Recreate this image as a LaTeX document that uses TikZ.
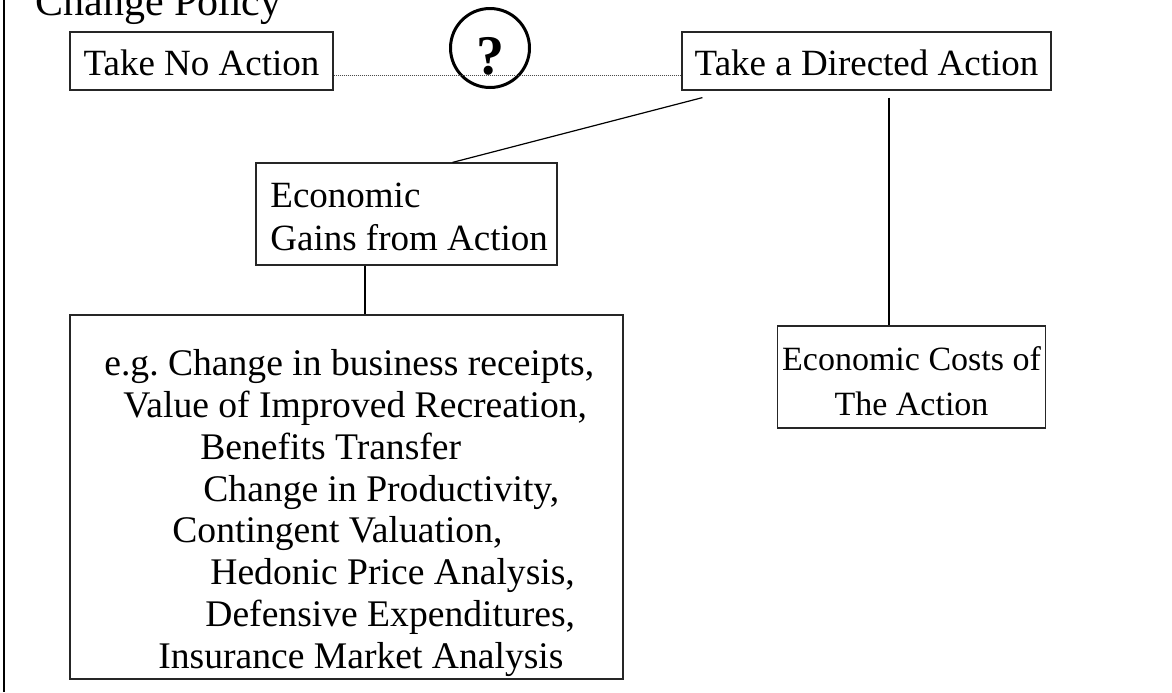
\documentclass[tikz,border=0pt]{standalone}
\usepackage{fontspec}
\setmainfont{Liberation Serif}
\frenchspacing
\begin{document}
\begin{tikzpicture}[x=0.5pt,y=-0.5pt]
        \tikzstyle{box}=[draw=black!85,line width=0.6pt,inner sep=0pt,font=\fontsize{18.5}{22}\selectfont]
        \tikzstyle{onerow}=[box,text height=21.5pt,text depth=7.5pt]
        \tikzstyle{txt}=[inner sep=0pt,anchor=base west,font=\fontsize{18.5}{22}\selectfont]
        \tikzstyle{small}=[txt,font=\fontsize{17}{20}\selectfont]
        \tikzstyle{list}=[txt,font=\fontsize{18.8}{22}\selectfont]
        \tikzstyle{edge}=[draw,line width=0.6pt]
        \useasboundingbox (0,0) rectangle (1172,692);
        \draw[line width=1.1pt] (4,0) -- (4,692);
        \node [txt,font=\fontsize{21}{25}\selectfont] (title) at (35,15) {Change Policy};
        \node [onerow,minimum width=131.5pt] (noact) at (201.5,61) {Take No Action};
        \node [onerow,minimum width=184.5pt] (directed) at (866.5,61) {Take a Directed Action};
        \node [circle,draw,line width=1.5pt,minimum size=39.5pt,inner sep=0pt] (q) at (490,48) {};
        \node [inner sep=0pt,anchor=base,font=\fontsize{28}{32}\bfseries\selectfont] (qmark) at (490,74) {?};
        \node [box,minimum width=150.5pt,minimum height=51pt] (gains) at (406.5,214) {};
        \node [txt] (gains1) at (270,207) {Economic};
        \node [txt] (gains2) at (270,250) {Gains from Action};
        \node [box,minimum width=134pt,minimum height=51pt] (costs) at (911.5,377) {};
        \node [small,anchor=base] (costs1) at (911.5,370) {Economic Costs of};
        \node [small,anchor=base] (costs2) at (911.5,415) {The Action};
        \node [box,minimum width=276.5pt,minimum height=182pt] (examples) at (346.5,497) {};
        \node [list] (ex1) at (104,375) {e.g. Change in business receipts,};
        \node [list] (ex2) at (123,417) {Value of Improved Recreation,};
        \node [list] (ex3) at (200,459) {Benefits Transfer};
        \node [list] (ex4) at (203,501) {Change in Productivity,};
        \node [list] (ex5) at (172,542) {Contingent Valuation,};
        \node [list] (ex6) at (210,584) {Hedonic Price Analysis,};
        \node [list] (ex7) at (205,626) {Defensive Expenditures,};
        \node [list] (ex8) at (158,668) {Insurance Market Analysis};
        \path[edge] ([yshift=-7pt]noact.east) edge [draw=black!70,line width=0.5pt,dash pattern=on 0.5pt off 0.5pt] ([yshift=-7pt]directed.west);
        \path[edge] ([xshift=10.5pt,yshift=-3.5pt]directed.south west) edge ([xshift=23pt]gains.north);
        \path[edge] ([xshift=11.25pt,yshift=-3.5pt]directed.south) edge ([xshift=11.25pt]directed.south |- costs.north);
        \path[edge] ([xshift=-20.75pt]gains.south) edge ([xshift=-20.75pt]gains.south |- examples.north);
\end{tikzpicture}
\end{document}
